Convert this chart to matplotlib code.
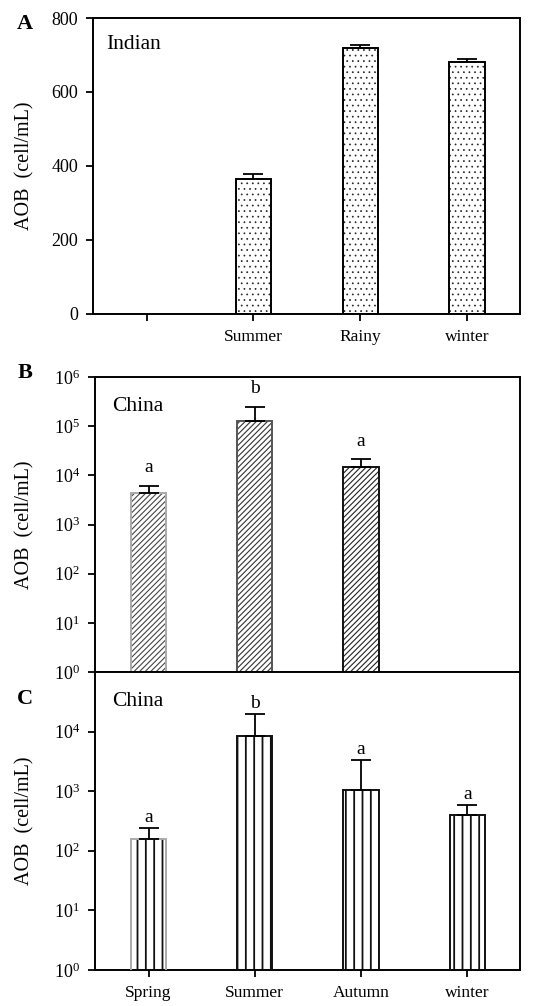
import numpy as np
import matplotlib
matplotlib.use("Agg")
import matplotlib.pyplot as plt
from matplotlib.ticker import FuncFormatter

plt.rcParams['font.family'] = ['Liberation Serif', 'DejaVu Serif']
plt.rcParams['mathtext.fontset'] = 'custom'
plt.rcParams['mathtext.rm'] = 'Liberation Serif'
plt.rcParams['hatch.linewidth'] = 1.0

# --- data ---
labels_a = ['', 'Summer', 'Rainy', 'winter']
aob_a = [np.nan, 366, 720, 681]
err_a = [np.nan, 12, 7, 7]

labels_b = ['Spring', 'Summer', 'Autumn', 'winter']
aob_b = [4400, 130000, 14900, np.nan]
err_b = [1700, 120000, 6500, np.nan]
sig_b = ['a', 'b', 'a', '']

labels_c = ['Spring', 'Summer', 'Autumn', 'winter']
aob_c = [155, 8400, 1050, 395]
err_c = [85, 11600, 2250, 200]
sig_c = ['a', 'b', 'a', 'a']

fig = plt.figure(figsize=(5.42, 10.06), dpi=100)
axA = fig.add_axes([0.172, 0.6879, 0.788, 0.2942])
axB = fig.add_axes([0.176, 0.3320, 0.784, 0.2932])
axC = fig.add_axes([0.176, 0.0358, 0.784, 0.2962])

W = 0.33


def draw_bars(ax, vals, errs, hatch, hatch_cols, edge_cols, hlw=1.0):
    x = np.arange(len(vals))
    v = np.array(vals, dtype=float)
    e = np.array(errs, dtype=float)
    ok = ~np.isnan(v)
    x, v, e = x[ok], v[ok], e[ok]
    hc = [c for c, k in zip(hatch_cols, ok) if k]
    ec = [c for c, k in zip(edge_cols, ok) if k]
    with plt.rc_context({'hatch.linewidth': hlw}):
        ax.bar(x, v, W, color='white', edgecolor=hc, linewidth=0, hatch=hatch, zorder=2)
    ax.bar(x, v, W, fill=False, edgecolor=ec, linewidth=1.4, zorder=3)
    ax.errorbar(x, v, yerr=[np.zeros_like(e), e], fmt='none', ecolor='black',
                elinewidth=1.3, capsize=7.5, capthick=1.3, zorder=4)
    return x, v, e


def style(ax, lab_x):
    for s in ax.spines.values():
        s.set_linewidth(1.4)
    ax.tick_params(direction='out', width=1.3, length=5, labelsize=12.5, pad=6)
    ax.tick_params(axis='y', labelsize=13)
    ax.tick_params(axis='y', which='minor', left=False)
    ax.set_xlim(-0.5, 3.5)
    ax.set_xticks(np.arange(4))
    ax.set_ylabel('AOB  (cell/mL)', fontsize=14.5)
    ax.yaxis.set_label_coords(lab_x, 0.5)


logfmt = FuncFormatter(lambda v, _: r'$\mathrm{10^{%d}}$' % int(round(np.log10(v))))

# A
draw_bars(axA, aob_a, err_a, '...', ['#222222'] * 4, ['black'] * 4, hlw=0.5)
style(axA, -0.138)
axA.set_ylim(0, 800)
axA.set_yticks([0, 200, 400, 600, 800])
axA.set_xticklabels(labels_a)
axA.text(0.03, 0.91, 'Indian', transform=axA.transAxes, fontsize=15.5, va='center')

# B
xb, vb, eb = draw_bars(axB, aob_b, err_b, '//////',
                       ['#444444', '#333333', '#222222', '#222222'],
                       ['#aaaaaa', '#555555', '#111111', '#111111'], hlw=0.8)
axB.set_yscale('log')
axB.set_ylim(1, 1e6)
axB.set_yticks([10.0 ** k for k in range(7)])
axB.yaxis.set_major_formatter(logfmt)
style(axB, -0.143)
axB.set_xticklabels([])
axB.text(0.04, 0.9, 'China', transform=axB.transAxes, fontsize=15.5, va='center')
for xi, top, s in zip(xb, vb + eb, sig_b):
    axB.annotate(s, (xi, top), xytext=(0, 13), textcoords='offset points',
                 ha='center', va='center', fontsize=14)

# C
xc, vc, ec = draw_bars(axC, aob_c, err_c, '||',
                       ['#111111'] * 4,
                       ['#aaaaaa', '#111111', '#111111', '#111111'], hlw=1.3)
axC.set_yscale('log')
axC.set_ylim(1, 1e5)
axC.set_yticks([10.0 ** k for k in range(5)])
axC.yaxis.set_major_formatter(logfmt)
style(axC, -0.143)
axC.set_xticklabels(labels_c)
axC.text(0.04, 0.9, 'China', transform=axC.transAxes, fontsize=15.5, va='center')
for xi, top, s in zip(xc, vc + ec, sig_c):
    axC.annotate(s, (xi, top), xytext=(0, 7.5), textcoords='offset points',
                 ha='center', va='center', fontsize=14)

fig.text(25 / 542, 1 - 24 / 1006, 'A', fontsize=16, fontweight='bold', ha='center', va='center')
fig.text(25 / 542, 1 - 373 / 1006, 'B', fontsize=16, fontweight='bold', ha='center', va='center')
fig.text(25 / 542, 1 - 699 / 1006, 'C', fontsize=16, fontweight='bold', ha='center', va='center')

fig.savefig('out.png', dpi=100)
